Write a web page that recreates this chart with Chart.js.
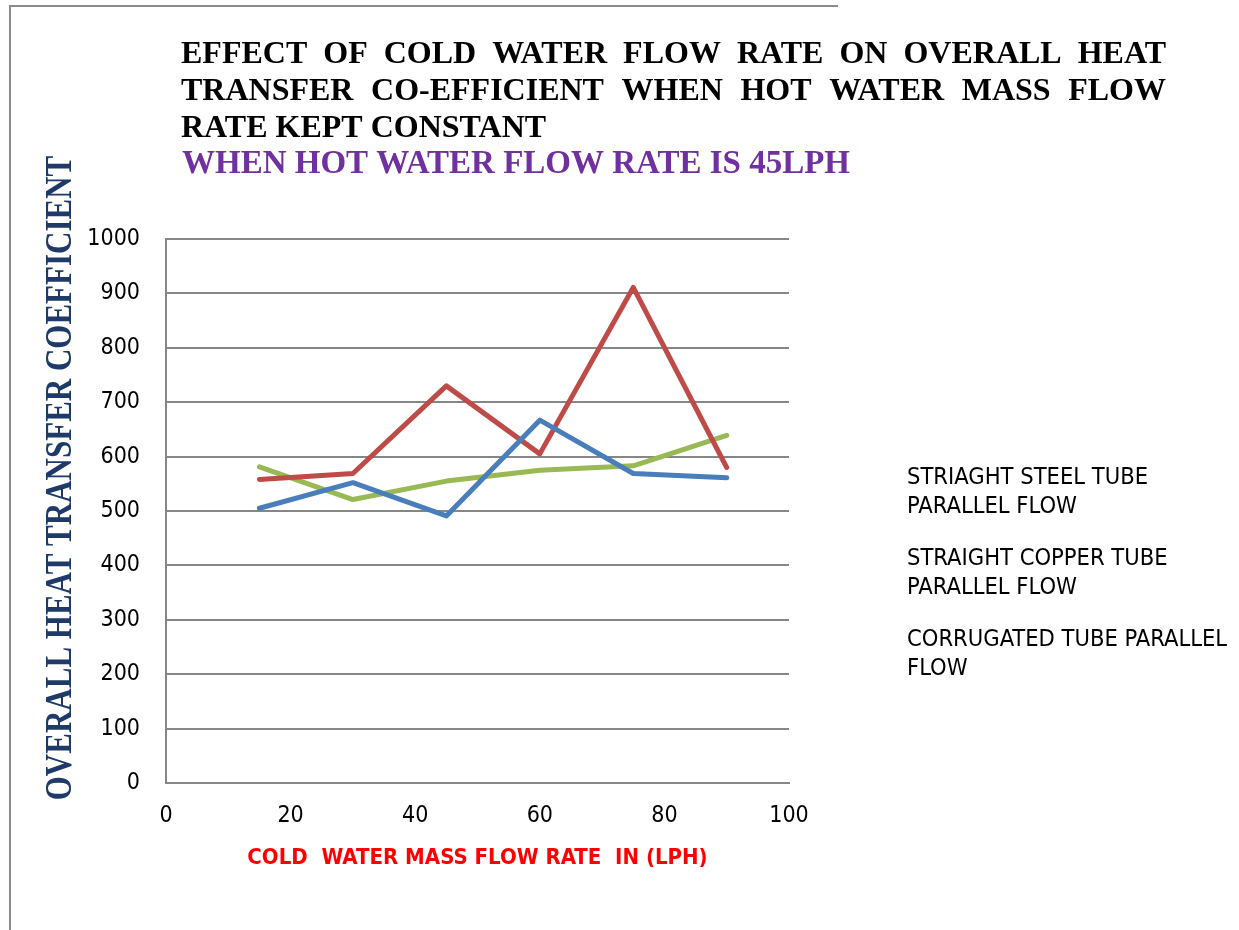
<!DOCTYPE html>
<html>
<head>
<meta charset="utf-8">
<title>Overall heat transfer coefficient</title>
<script src="https://cdn.jsdelivr.net/npm/chart.js@4.4.1/dist/chart.umd.min.js"></script>
<style>
	body{ margin:0; background:#ffffff; }
	canvas{ display:block; }
</style>
</head>
<body>
<canvas id="grafico" width="1239" height="930"></canvas>
<script>
// datos
var caudalFrio = [15, 30, 45, 60, 75, 90];
var tuboAcero = [505, 552, 491, 667, 569, 561];
var tuboCobre = [558, 569, 730, 605, 911, 580];
var tuboCorrugado = [581, 521, 555, 575, 583, 639];

var nombresSeries = [
	["STRIAGHT STEEL TUBE", "PARALLEL FLOW"],
	["STRAIGHT COPPER TUBE", "PARALLEL FLOW"],
	["CORRUGATED TUBE PARALLEL", "FLOW"]
];
var coloresSeries = ["#4A7EBB", "#BE4B48", "#98B954"];

var ticksX = [0, 20, 40, 60, 80, 100];
var ticksY = [0, 100, 200, 300, 400, 500, 600, 700, 800, 900, 1000];

var titulo = [
	"EFFECT OF COLD WATER FLOW RATE ON OVERALL HEAT",
	"TRANSFER CO-EFFICIENT WHEN HOT WATER MASS FLOW",
	"RATE KEPT CONSTANT"
];
var subtitulo = "WHEN HOT WATER FLOW RATE IS 45LPH";
var tituloY = "OVERALL HEAT TRANSFER COEFFICIENT";
var tituloX = "COLD  WATER MASS FLOW RATE  IN (LPH)";

var fuenteEstrecha = "'DejaVu Sans Condensed', 'Liberation Sans Narrow', sans-serif";
var fuenteSerif = "'Liberation Serif', 'Times New Roman', serif";

function armarPuntos(valores){
	return caudalFrio.map(function(x, i){ return {x: x, y: valores[i]}; });
}

function lineaJustificada(ctx, texto, x, y, ancho){
	var palabras = texto.split(' ');
	var total = 0;
	palabras.forEach(function(p){ total += ctx.measureText(p).width; });
	var hueco = (ancho - total) / (palabras.length - 1);
	var px = x;
	palabras.forEach(function(p){
		ctx.fillText(p, px, y);
		px += ctx.measureText(p).width + hueco;
	});
}

var fondoPlugin = {
	id: 'fondo',
	beforeDraw: function(chart){
		var ctx = chart.ctx;
		ctx.save();
		ctx.fillStyle = '#ffffff';
		ctx.fillRect(0, 0, chart.width, chart.height);
		ctx.strokeStyle = '#8c8c8c';
		ctx.lineWidth = 2;
		ctx.beginPath();
		ctx.moveTo(10, chart.height);
		ctx.lineTo(10, 6);
		ctx.lineTo(838, 6);
		ctx.stroke();
		ctx.restore();
	}
};

var textosPlugin = {
	id: 'textos',
	afterDraw: function(chart){
		var ctx = chart.ctx;
		ctx.save();
		// titulo principal justificado
		ctx.fillStyle = '#000000';
		ctx.font = "bold 32px " + fuenteSerif;
		ctx.textBaseline = 'alphabetic';
		ctx.textAlign = 'left';
		lineaJustificada(ctx, titulo[0], 181, 63, 985);
		lineaJustificada(ctx, titulo[1], 181, 100, 985);
		ctx.fillText(titulo[2], 181, 137);
		ctx.fillStyle = '#7030A0';
		ctx.font = "bold 33px " + fuenteSerif;
		ctx.fillText(subtitulo, 182, 173);

		// titulo del eje Y
		ctx.save();
		ctx.translate(71, 478);
		ctx.rotate(-Math.PI / 2);
		ctx.scale(1, 1.2);
		ctx.font = "bold 31px " + fuenteSerif;
		ctx.fillStyle = '#1F3A68';
		ctx.textAlign = 'center';
		ctx.fillText(tituloY, 0, 0);
		ctx.restore();

		// leyenda sin marcas
		ctx.fillStyle = '#000000';
		ctx.font = "23.5px " + fuenteEstrecha;
		ctx.textAlign = 'left';
		ctx.textBaseline = 'middle';
		chart.data.datasets.forEach(function(ds, i){
			var y0 = 478 + i * 81;
			ds.label.forEach(function(linea, j){
				ctx.fillText(linea, 907, y0 + j * 29);
			});
		});
		ctx.restore();
	}
};

function init(){
	var series = [tuboAcero, tuboCobre, tuboCorrugado];
	var datasets = series.map(function(valores, i){
		return {
			label: nombresSeries[i],
			data: armarPuntos(valores),
			borderColor: coloresSeries[i],
			backgroundColor: coloresSeries[i],
			borderWidth: 5,
			borderJoinStyle: 'round',
			borderCapStyle: 'round',
			pointRadius: 0,
			tension: 0,
			fill: false
		};
	});

	var ctx = document.getElementById('grafico').getContext('2d');
	window.grafico = new Chart(ctx, {
		type: 'line',
		data: { datasets: datasets },
		options: {
			responsive: false,
			animation: false,
			layout: { padding: { top: 239, right: 450, left: 0, bottom: 59 } },
			plugins: {
				legend: { display: false },
				title: { display: false },
				tooltip: { enabled: false }
			},
			scales: {
				x: {
					type: 'linear',
					min: 0,
					max: 100,
					afterFit: function(s){ s.height = 88; },
					afterBuildTicks: function(s){ s.ticks = ticksX.map(function(v){ return {value: v}; }); },
					grid: { display: false, drawTicks: false },
					border: { color: '#868686', width: 2 },
					ticks: {
						padding: 19,
						color: '#000000',
						font: { family: fuenteEstrecha, size: 23 },
						callback: function(v){ return String(v); }
					},
					title: {
						display: true,
						text: tituloX,
						color: '#FF0000',
						padding: 0,
						font: { family: fuenteEstrecha, size: 22, weight: 'bold' }
					}
				},
				y: {
					min: 0,
					max: 1000,
					afterFit: function(s){ s.width = 166; },
					afterBuildTicks: function(s){ s.ticks = ticksY.map(function(v){ return {value: v}; }); },
					grid: { color: '#868686', lineWidth: 2, drawTicks: false },
					border: { color: '#868686', width: 2 },
					ticks: {
						padding: 26,
						color: '#000000',
						font: { family: fuenteEstrecha, size: 23 },
						callback: function(v){ return String(v); }
					}
				}
			}
		},
		plugins: [fondoPlugin, textosPlugin]
	});
}

init();
</script>
</body>
</html>
